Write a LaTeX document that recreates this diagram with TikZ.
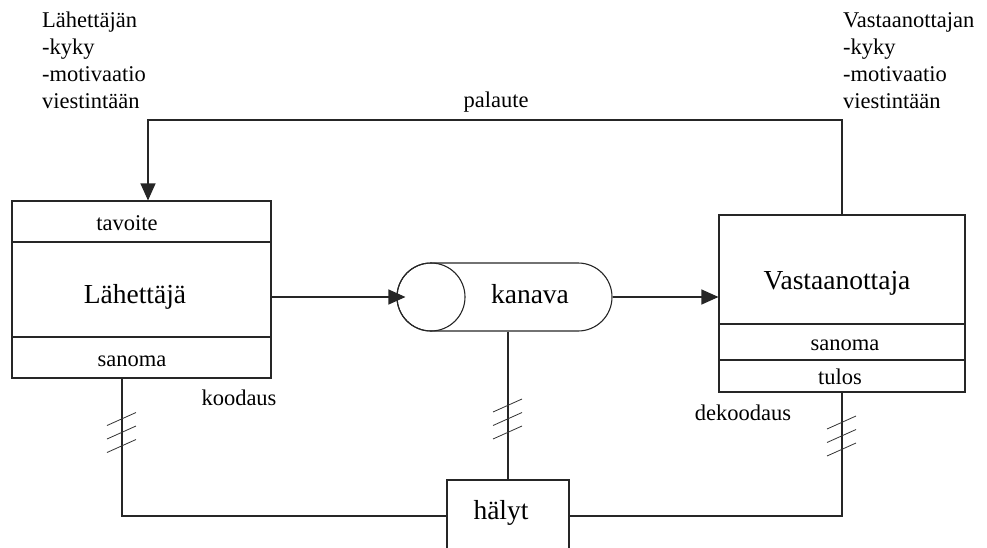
\documentclass[tikz,border=0pt]{standalone}
\usepackage{fontspec}
\setmainfont{Liberation Serif}
\usetikzlibrary{arrows.meta}

\tikzset{
  wire/.style={line width=1.1pt, draw=black!85},
  hashline/.style={line width=0.8pt, draw=black!80},
  tipped/.style={wire, -{Triangle[length=17pt,width=15pt]}},
  box/.style={wire, draw, rectangle, inner sep=0pt},
  small/.style={font=\fontsize{22.5}{27}\selectfont, inner sep=0pt},
  large/.style={font=\fontsize{27.5}{32}\selectfont, inner sep=0pt},
  hashes/.pic={
    \foreach \d in {0,13.5,27}
      \draw[hashline] (-15,\d+6.5) -- (14,\d-6.5);
  }
}

\begin{document}
\begin{tikzpicture}[x=1pt,y=-1pt]
\useasboundingbox (0,0) rectangle (987,547);
\clip (0,0) rectangle (987,547);

% sender and receiver notes
\node[small, anchor=base west] (sn1) at (42,27)  {Lähettäjän};
\node[small, anchor=base west] (sn2) at (42,54)  {-kyky};
\node[small, anchor=base west] (sn3) at (42,81)  {-motivaatio};
\node[small, anchor=base west] (sn4) at (42,108) {viestintään};
\node[small, anchor=base west] (rn1) at (843,27)  {Vastaanottajan};
\node[small, anchor=base west] (rn2) at (843,54)  {-kyky};
\node[small, anchor=base west] (rn3) at (843,81)  {-motivaatio};
\node[small, anchor=base west] (rn4) at (843,108) {viestintään};

% sender box
\node[box, minimum width=259pt, minimum height=177pt] (snd) at (141.5,289.5) {};
\draw[wire] (12,242) -- (271,242);
\draw[wire] (12,337) -- (271,337);
\node[small, anchor=base] (goal) at (127,230) {tavoite};
\node[large, anchor=base] (sndt) at (135,303) {Lähettäjä};
\node[small, anchor=base] (msgL) at (132,366) {sanoma};

% channel
\node[wire, draw, rectangle, rounded corners=34pt, minimum width=215pt,
      minimum height=68pt, inner sep=0pt] (kan) at (504.5,297) {};
\node[wire, draw, circle, minimum size=68pt, inner sep=0pt] (ring) at (431,297) {};
\node[large, anchor=base] (kant) at (530,303) {kanava};

% receiver box
\node[box, minimum width=246pt, minimum height=177pt] (rcv) at (842,303.5) {};
\draw[wire] (719,324) -- (965,324);
\draw[wire] (719,360) -- (965,360);
\node[large, anchor=base] (rcvt) at (837,289) {Vastaanottaja};
\node[small, anchor=base] (msgR) at (845,350) {sanoma};
\node[small, anchor=base] (res) at (840,384) {tulos};

% noise box
\node[box, minimum width=122pt, minimum height=100pt] (hal) at (508,530) {};
\node[large, anchor=base] (halt) at (501,519) {hälyt};

% labels
\node[small, anchor=base] (fb) at (496,107) {palaute};
\node[small, anchor=base] (enc) at (239,405) {koodaus};
\node[small, anchor=base] (dec) at (743,420) {dekoodaus};

% connectors
\coordinate (fbL) at (148,120);
\coordinate (cL) at (122,516);
\coordinate (cR) at (842,516);

\draw[tipped] (snd.east |- ring) -- ([xshift=9pt]ring.west);
\draw[tipped] (kan.east) -- (rcv.west |- kan);
\draw[tipped] (rcv.north) |- (fbL) -- (fbL |- snd.north);

\draw[wire] (cL |- snd.south) -- (cL) -- (hal.west |- cL);
\draw[wire] (hal.east |- cR) -- (cR) -- (cR |- rcv.south);
\draw[wire] (hal.north |- kan.south) -- (hal.north);

% noise marks
\pic at (122,419) {hashes};
\pic at (508,405.5) {hashes};
\pic at (842,422.5) {hashes};
\end{tikzpicture}
\end{document}
